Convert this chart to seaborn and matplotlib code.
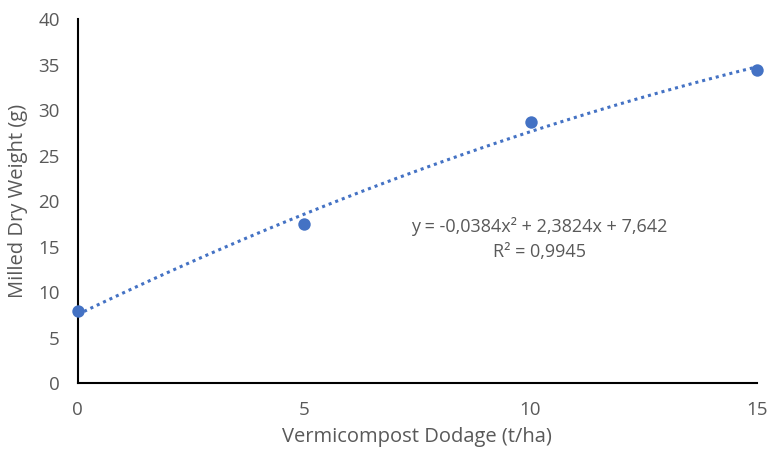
import matplotlib
matplotlib.use("Agg")
import matplotlib.pyplot as plt
import seaborn as sns
import numpy as np
import pandas as pd

dosage = [0, 5, 10, 15]
dry_weight = [7.9, 17.5, 28.7, 34.4]
x_ticks = [0, 5, 10, 15]
y_ticks = [0, 5, 10, 15, 20, 25, 30, 35, 40]
equation = "y = -0,0384x² + 2,3824x + 7,642"
r_squared = "R² = 0,9945"

df = pd.DataFrame({"dosage": dosage, "weight": dry_weight})

sns.set_theme(style="white")
plt.rcParams["font.family"] = ["Open Sans", "DejaVu Sans"]

blue = "#4472C4"
grey = "#595959"

fig = plt.figure(figsize=(7.7, 4.55), dpi=100)
ax = fig.add_axes([0.101, 0.158, 0.882, 0.800])

sns.regplot(data=df, x="dosage", y="weight", order=2, ci=None, ax=ax,
            color=blue,
            scatter_kws={"s": 80, "alpha": 1, "zorder": 3, "linewidths": 0},
            line_kws={"linestyle": (0, (1, 1.3)), "linewidth": 2.2, "zorder": 2})

ax.set_xlim(0, 15)
ax.set_ylim(0, 40)
ax.set_xticks(x_ticks)
ax.set_yticks(y_ticks)
ax.tick_params(axis="both", length=0, labelsize=13.5, colors=grey)
ax.tick_params(axis="x", pad=13)
ax.tick_params(axis="y", pad=13)
for lab in ax.get_xticklabels() + ax.get_yticklabels():
    lab.set_color(grey)

for s in ["top", "right"]:
    ax.spines[s].set_visible(False)
for s in ["left", "bottom"]:
    ax.spines[s].set_color("black")
    ax.spines[s].set_linewidth(1.5)

ax.set_xlabel("Vermicompost Dodage (t/ha)", fontsize=14.5, color=grey, labelpad=6)
ax.set_ylabel("Milled Dry Weight (g)", fontsize=14.5, color=grey, labelpad=7)

ax.text(10.2, 17.25, equation, ha="center", va="center", fontsize=13, color=grey)
ax.text(10.2, 14.45, r_squared, ha="center", va="center", fontsize=13, color=grey)

for c in ax.collections:
    c.set_clip_on(False)
for l in ax.lines:
    l.set_clip_on(False)

fig.savefig("out.png", dpi=100)
